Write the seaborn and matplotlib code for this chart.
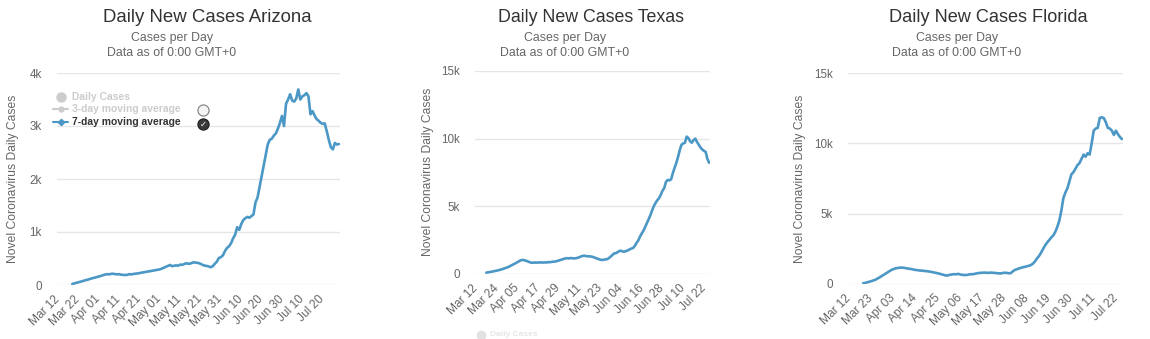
import numpy as np
import pandas as pd
import matplotlib
matplotlib.use("Agg")
import matplotlib.pyplot as plt
from matplotlib.lines import Line2D
import seaborn as sns

# ---------------- data ----------------
AXIS_START = "2020-03-12"

AZ_TITLE = "Daily New Cases Arizona"
AZ_FIRST_DAY = "2020-03-19"
AZ_AXIS_END = "2020-07-28"
AZ_CASES = [
    20, 30, 40, 50, 60, 72, 85, 95, 105, 118, 128, 140, 150, 160, 170, 185, 195, 205, 200, 210,
    212, 205, 200, 205, 195, 192, 188, 192, 205, 200, 208, 212, 218, 225, 230, 238, 248, 255, 258, 265,
    272, 280, 288, 295, 310, 325, 345, 360, 378, 355, 362, 370, 365, 385, 380, 395, 410, 400, 405, 420,
    428, 420, 415, 400, 380, 365, 360, 350, 335, 355, 400, 440, 510, 525, 560, 640, 700, 730, 790, 880,
    950, 1090, 1040, 1150, 1225, 1260, 1285, 1270, 1300, 1330, 1560, 1650, 1850, 2050, 2250, 2450, 2650, 2740, 2760, 2820,
    2860, 2950, 3060, 3190, 3000, 3420, 3500, 3600, 3480, 3460, 3520, 3690, 3500, 3560, 3580, 3620, 3560, 3220, 3280, 3200,
    3130, 3100, 3060, 3040, 3050, 2900, 2740, 2600, 2560, 2680, 2650, 2660,
]
AZ_XTICKS = ["Mar 12", "Mar 22", "Apr 01", "Apr 11", "Apr 21", "May 01", "May 11",
             "May 21", "May 31", "Jun 10", "Jun 20", "Jun 30", "Jul 10", "Jul 20"]
AZ_XSTEP = 10
AZ_YTICKS = [0, 1000, 2000, 3000, 4000]
AZ_YLABELS = ["0", "1k", "2k", "3k", "4k"]

TX_TITLE = "Daily New Cases Texas"
TX_FIRST_DAY = "2020-03-18"
TX_AXIS_END = "2020-07-25"
TX_CASES = [
    100, 120, 140, 165, 190, 215, 245, 275, 310, 345, 390, 430, 480, 530, 600, 665, 730, 800, 870, 950,
    1010, 1040, 1020, 980, 930, 880, 840, 830, 845, 850, 840, 860, 855, 845, 860, 850, 880, 870, 900, 910,
    920, 960, 1000, 1040, 1080, 1120, 1160, 1170, 1150, 1180, 1160, 1150, 1170, 1200, 1250, 1300, 1340, 1350, 1320, 1300,
    1310, 1280, 1250, 1200, 1150, 1100, 1060, 1040, 1050, 1080, 1100, 1170, 1280, 1400, 1520, 1540, 1610, 1700, 1720, 1660,
    1650, 1700, 1750, 1820, 1880, 1920, 2080, 2300, 2480, 2760, 3000, 3200, 3480, 3750, 4050, 4350, 4700, 5020, 5250, 5450,
    5600, 5850, 6150, 6350, 6800, 6950, 6920, 7000, 7450, 7850, 8200, 8650, 9150, 9550, 9650, 9700, 10150, 10050, 9800, 9700,
    9900, 10000, 9750, 9550, 9350, 9200, 9100, 9020, 8500, 8220,
]
TX_XTICKS = ["Mar 12", "Mar 24", "Apr 05", "Apr 17", "Apr 29", "May 11", "May 23",
             "Jun 04", "Jun 16", "Jun 28", "Jul 10", "Jul 22"]
TX_XSTEP = 12
TX_YTICKS = [0, 5000, 10000, 15000]
TX_YLABELS = ["0", "5k", "10k", "15k"]

FL_TITLE = "Daily New Cases Florida"
FL_FIRST_DAY = "2020-03-19"
FL_AXIS_END = "2020-07-25"
FL_CASES = [
    50, 80, 120, 160, 200, 250, 300, 380, 460, 550, 640, 730, 820, 910, 1000, 1060, 1110, 1140, 1160, 1170,
    1150, 1130, 1100, 1080, 1060, 1020, 1000, 980, 960, 950, 930, 920, 900, 880, 850, 820, 790, 760, 720, 680,
    640, 600, 620, 660, 680, 700, 690, 720, 680, 650, 640, 640, 660, 700, 690, 720, 750, 780, 790, 800,
    810, 800, 790, 810, 800, 790, 770, 760, 750, 780, 800, 790, 760, 770, 900, 1000, 1050, 1100, 1150, 1190,
    1220, 1260, 1300, 1350, 1450, 1620, 1820, 2000, 2230, 2500, 2750, 2950, 3130, 3300, 3450, 3700, 4050, 4500, 5200, 6100,
    6500, 6800, 7300, 7800, 7950, 8200, 8450, 8600, 8900, 9200, 9050, 9300, 9200, 10000, 10900, 11050, 11100, 11800, 11850, 11800,
    11500, 11100, 11050, 10900, 10600, 10900, 10650, 10450, 10300,
]
FL_XTICKS = ["Mar 12", "Mar 23", "Apr 03", "Apr 14", "Apr 25", "May 06", "May 17",
             "May 28", "Jun 08", "Jun 19", "Jun 30", "Jul 11", "Jul 22"]
FL_XSTEP = 11
FL_YTICKS = [0, 5000, 10000, 15000]
FL_YLABELS = ["0", "5k", "10k", "15k"]

SUBTITLE_1 = "Cases per Day"
SUBTITLE_2 = "Data as of 0:00 GMT+0"
YLABEL = "Novel Coronavirus Daily Cases"
LEGEND_LABELS = ["Daily Cases", "3-day moving average", "7-day moving average"]

# ---------------- style ----------------
sns.set_theme(style="white")
plt.rcParams["font.family"] = ["Liberation Sans", "DejaVu Sans"]

W, H = 1150, 339
LINE_COLOR = "#4b97c5"
GRID_COLOR = "#e6e6e6"
TITLE_COLOR = "#333333"
TEXT_COLOR = "#666666"

fig = plt.figure(figsize=(W / 100, H / 100), dpi=100)


def fx(px):
    return px / W


def fy(py):
    return 1 - py / H


panels = [
    dict(title=AZ_TITLE, first=AZ_FIRST_DAY, end=AZ_AXIS_END, cases=AZ_CASES, xt=AZ_XTICKS,
         step=AZ_XSTEP, yt=AZ_YTICKS, yl=AZ_YLABELS, box=(57, 73, 340, 285),
         tx=207, tsize=13.4, sx=172, ylx=13, ylc=179),
    dict(title=TX_TITLE, first=TX_FIRST_DAY, end=TX_AXIS_END, cases=TX_CASES, xt=TX_XTICKS,
         step=TX_XSTEP, yt=TX_YTICKS, yl=TX_YLABELS, box=(475, 71, 710, 274),
         tx=591, tsize=12.8, sx=565, ylx=428, ylc=172),
    dict(title=FL_TITLE, first=FL_FIRST_DAY, end=FL_AXIS_END, cases=FL_CASES, xt=FL_XTICKS,
         step=FL_XSTEP, yt=FL_YTICKS, yl=FL_YLABELS, box=(848, 73, 1123, 284),
         tx=988, tsize=13.1, sx=957, ylx=800, ylc=179),
]

start = pd.Timestamp(AXIS_START)
for p in panels:
    x0, y0, x1, y1 = p["box"]
    ax = fig.add_axes([fx(x0), fy(y1), (x1 - x0) / W, (y1 - y0) / H])
    offset = (pd.Timestamp(p["first"]) - start).days
    ncat = (pd.Timestamp(p["end"]) - start).days + 1
    df = pd.DataFrame({"day": offset + np.arange(len(p["cases"])), "cases": p["cases"]})
    sns.lineplot(data=df, x="day", y="cases", ax=ax, color=LINE_COLOR, lw=1.9)
    ax.set_xlim(-0.5, ncat - 0.5)
    ax.set_ylim(p["yt"][0], p["yt"][-1])
    for s in ax.spines.values():
        s.set_visible(False)
    ax.set_yticks(p["yt"])
    ax.set_yticklabels(p["yl"])
    ax.set_xticks([i * p["step"] for i in range(len(p["xt"]))])
    ax.set_xticklabels(p["xt"], rotation=45, ha="right", rotation_mode="anchor", va="center")
    ax.tick_params(axis="x", length=0, pad=9, labelsize=8.6, labelcolor=TEXT_COLOR)
    ax.tick_params(axis="y", length=0, pad=11, labelsize=8.4, labelcolor=TEXT_COLOR)
    ax.yaxis.grid(True, color=GRID_COLOR, lw=1)
    ax.xaxis.grid(False)
    ax.set_xlabel("")
    ax.set_ylabel("")
    fig.text(fx(p["tx"]), fy(17), p["title"], ha="center", va="center",
             fontsize=p["tsize"], color=TITLE_COLOR)
    fig.text(fx(p["sx"]), fy(38.5), SUBTITLE_1, ha="center", va="center",
             fontsize=8.9, color=TEXT_COLOR)
    fig.text(fx(p["sx"]), fy(52.5), SUBTITLE_2, ha="center", va="center",
             fontsize=8.9, color=TEXT_COLOR)
    fig.text(fx(p["ylx"]), fy(p["ylc"]), YLABEL, rotation=90, ha="center", va="center",
             fontsize=8.7, color=TEXT_COLOR)

# ---------------- legend (Arizona panel) ----------------
HIDDEN = "#cccccc"
fig.add_artist(Line2D([fx(60.5)], [fy(96.7)], transform=fig.transFigure, marker="o",
                      ms=6.5, color=HIDDEN, lw=0))
fig.text(fx(72), fy(96.7), LEGEND_LABELS[0], ha="left", va="center", fontsize=7.4,
         fontweight="bold", color=HIDDEN)
fig.add_artist(Line2D([fx(53), fx(68)], [fy(109.5), fy(109.5)], transform=fig.transFigure,
                      color=HIDDEN, lw=1.5))
fig.add_artist(Line2D([fx(60.5)], [fy(109.5)], transform=fig.transFigure, marker="o",
                      ms=3.5, color=HIDDEN, lw=0))
fig.text(fx(72), fy(109.5), LEGEND_LABELS[1], ha="left", va="center", fontsize=7.4,
         fontweight="bold", color=HIDDEN)
fig.add_artist(Line2D([fx(53), fx(68)], [fy(122), fy(122)], transform=fig.transFigure,
                      color=LINE_COLOR, lw=1.5))
fig.add_artist(Line2D([fx(60.5)], [fy(122)], transform=fig.transFigure, marker="D",
                      ms=3.2, color=LINE_COLOR, lw=0))
fig.text(fx(72), fy(122), LEGEND_LABELS[2], ha="left", va="center", fontsize=7.4,
         fontweight="bold", color=TITLE_COLOR)
# checkboxes
fig.add_artist(Line2D([fx(203)], [fy(110)], transform=fig.transFigure, marker="o",
                      ms=8, mfc="#f4f4f4", mec="#888888", mew=0.9, lw=0))
fig.add_artist(Line2D([fx(203)], [fy(124)], transform=fig.transFigure, marker="o",
                      ms=8, mfc="#3a3a3a", mec="#222222", mew=0.9, lw=0))
fig.text(fx(203), fy(124), "\u2713", ha="center", va="center", fontsize=6,
         color="white", family=["DejaVu Sans"])

# faint legend peeking in under the Texas panel
fig.add_artist(Line2D([fx(481)], [fy(335)], transform=fig.transFigure, marker="o",
                      ms=6, color="#e2e2e2", lw=0))
fig.text(fx(490), fy(334.5), LEGEND_LABELS[0], ha="left", va="center", fontsize=6,
         fontweight="bold", color="#e6e6e6")

fig.savefig("out.png", dpi=100, facecolor="white")
